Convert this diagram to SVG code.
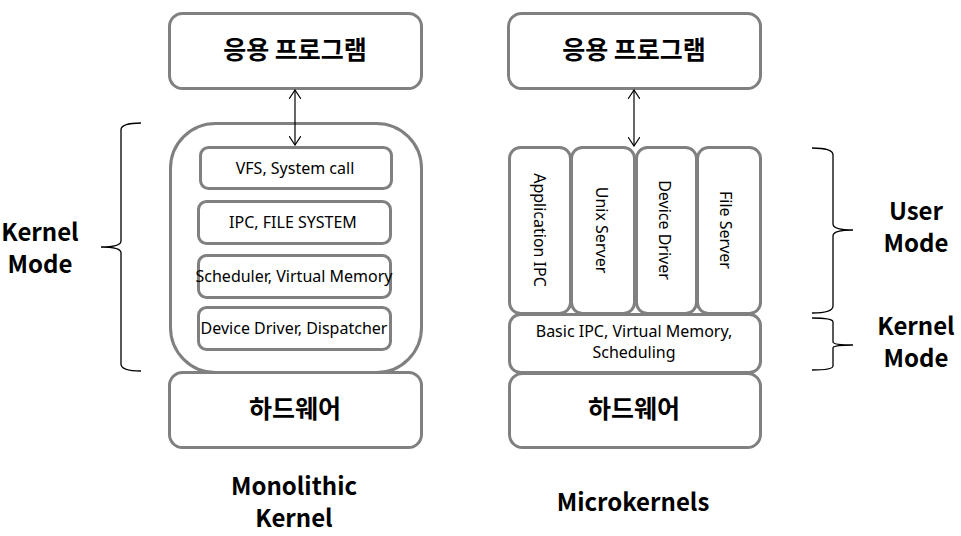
<svg xmlns="http://www.w3.org/2000/svg" width="961" height="536" viewBox="0 0 961 536">
<defs>
<style>
.box{fill:#fff;stroke:#808080;stroke-width:3}
.t{font-family:"Noto Sans CJK KR","Noto Sans",sans-serif;fill:#000;text-anchor:middle}
.big{font-size:25px;font-weight:bold}
.sm{font-family:"Noto Sans","Noto Sans CJK KR",sans-serif;font-size:16px}
.lbl{font-size:24px;font-weight:bold}
.brace{fill:none;stroke:#000;stroke-width:1.3}
.con{stroke:#000;stroke-width:1.2;fill:none}
</style>
<marker id="ah" viewBox="0 0 10 12" refX="9" refY="6" markerWidth="10" markerHeight="12" markerUnits="userSpaceOnUse" orient="auto-start-reverse">
<path d="M0,0 L9,6 L0,12" fill="none" stroke="#000" stroke-width="1.2"/>
</marker>
</defs>
<rect width="961" height="536" fill="#fff"/>

<g id="left-app"><rect class="box" x="169.5" y="13.5" width="252" height="75" rx="13"/><text class="t big" x="295" y="59">응용 프로그램</text></g>
<g id="left-kernel"><rect class="box" x="170.5" y="123.5" width="251" height="249" rx="45"/></g>
<g id="vfs"><rect class="box" x="200.5" y="147.5" width="191" height="41" rx="8"/><text class="t sm" x="295" y="174">VFS, System call</text></g>
<g id="ipcfs"><rect class="box" x="198.5" y="201.5" width="192" height="42" rx="8"/><text class="t sm" x="293" y="228">IPC, FILE SYSTEM</text></g>
<g id="sched"><rect class="box" x="198.5" y="255.5" width="192" height="42" rx="8"/><text class="t sm" x="294" y="282">Scheduler, Virtual Memory</text></g>
<g id="devdisp"><rect class="box" x="198.5" y="307.5" width="192" height="42" rx="8"/><text class="t sm" x="294" y="334">Device Driver, Dispatcher</text></g>
<g id="left-hw"><rect class="box" x="169.5" y="372.5" width="252" height="75" rx="13"/><text class="t big" x="295" y="418">하드웨어</text></g>

<g id="right-app"><rect class="box" x="508.5" y="13.5" width="252" height="75" rx="13"/><text class="t big" x="634" y="59">응용 프로그램</text></g>
<g id="app-ipc"><rect class="box" x="509.5" y="147.5" width="61" height="166" rx="11"/><text class="t sm" transform="translate(534,230) rotate(90)">Application IPC</text></g>
<g id="unix"><rect class="box" x="571.5" y="147.5" width="63" height="166" rx="11"/><text class="t sm" transform="translate(596,230) rotate(90)">Unix Server</text></g>
<g id="devdrv"><rect class="box" x="636.5" y="147.5" width="60" height="166" rx="11"/><text class="t sm" transform="translate(659,230) rotate(90)">Device Driver</text></g>
<g id="filesrv"><rect class="box" x="697.5" y="147.5" width="63" height="166" rx="11"/><text class="t sm" transform="translate(720,230) rotate(90)">File Server</text></g>
<g id="basic"><rect class="box" x="509.5" y="314.5" width="251" height="58" rx="11"/><text class="t sm" x="634" y="337">Basic IPC, Virtual Memory,</text><text class="t sm" x="634" y="358">Scheduling</text></g>
<g id="right-hw"><rect class="box" x="509.5" y="373.5" width="251" height="74" rx="13"/><text class="t big" x="634" y="418">하드웨어</text></g>

<g id="connectors">
<line class="con" x1="295" y1="90" x2="295" y2="145" marker-start="url(#ah)" marker-end="url(#ah)"/>
<line class="con" x1="634" y1="90" x2="634" y2="146" marker-start="url(#ah)" marker-end="url(#ah)"/>
<path class="brace" d="M141,123 Q121,123 121,130 L121,241 Q121,247 101,247 Q121,247 121,253 L121,364 Q121,371 141,371"/>
<path class="brace" d="M812,148 Q833,148 833,155 L833,224 Q833,230 853,230 Q833,230 833,236 L833,306 Q833,313 812,313"/>
<path class="brace" d="M812,318 Q833,318 833,322 L833,342 Q833,345 853,345 Q833,345 833,348 L833,366 Q833,370 812,370"/>
</g>

<g id="labels">
<text class="t lbl" x="40" y="241">Kernel</text>
<text class="t lbl" x="40" y="273">Mode</text>
<text class="t lbl" x="916" y="220">User</text>
<text class="t lbl" x="916" y="252">Mode</text>
<text class="t lbl" x="916" y="335">Kernel</text>
<text class="t lbl" x="916" y="367">Mode</text>
<text class="t lbl" x="294" y="495">Monolithic</text>
<text class="t lbl" x="294" y="527">Kernel</text>
<text class="t lbl" x="633" y="511">Microkernels</text>
</g>
</svg>
